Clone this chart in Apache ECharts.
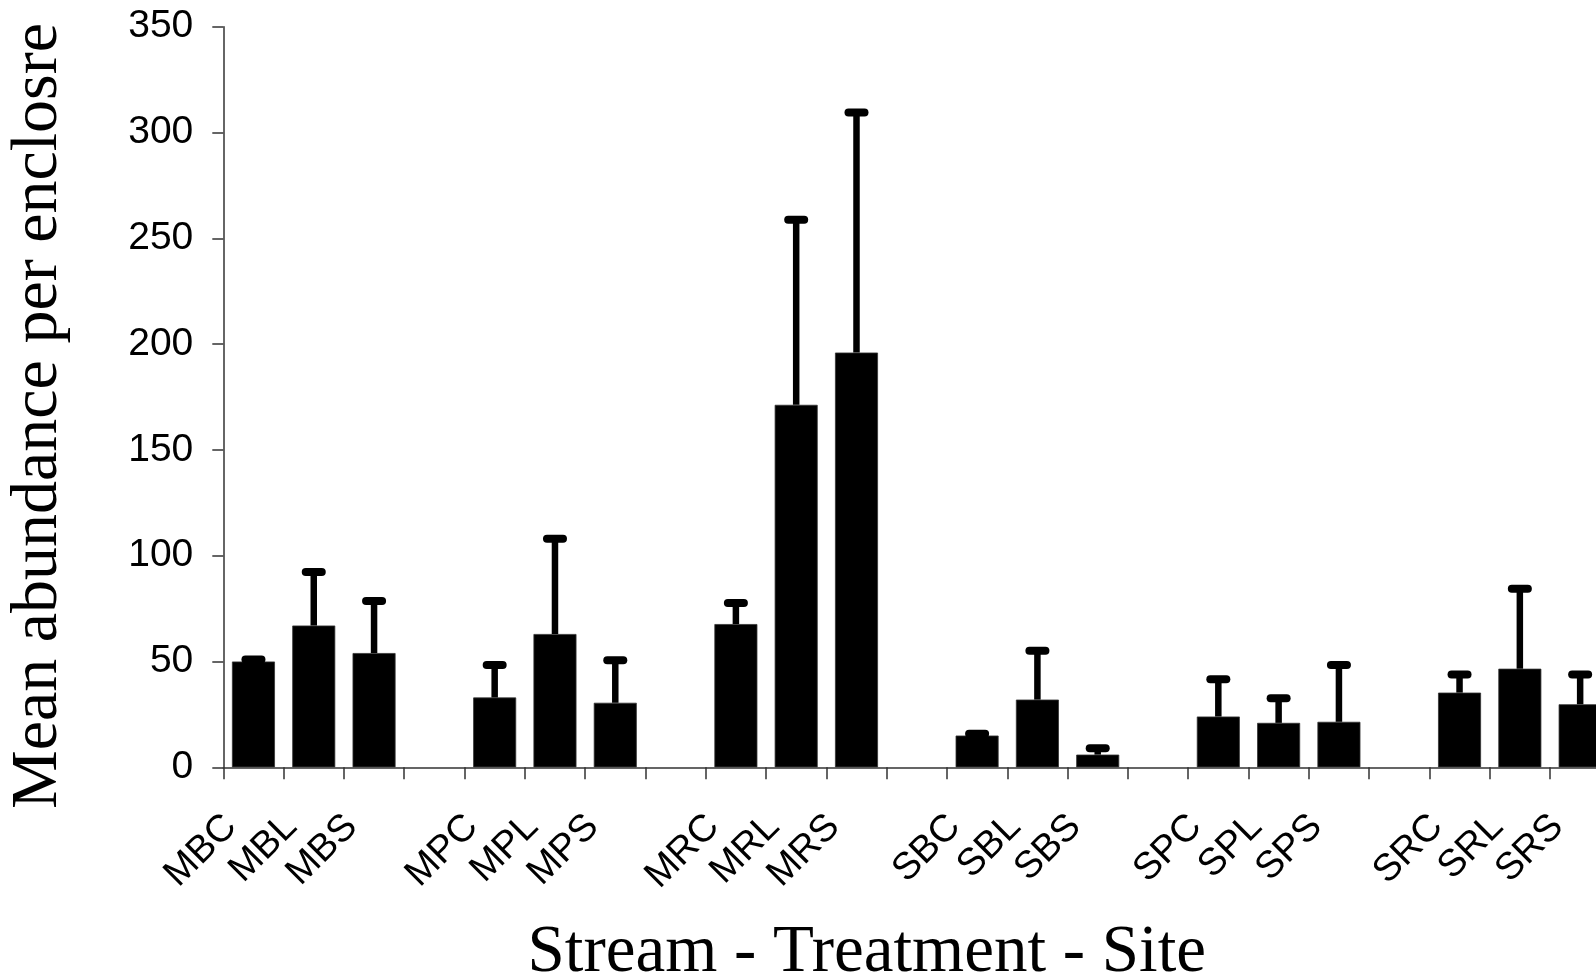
<!DOCTYPE html>
<html>
<head>
<meta charset="utf-8">
<script src="https://cdn.jsdelivr.net/npm/echarts@6/dist/echarts.min.js"></script>
<style>
  html, body { margin: 0; padding: 0; background: #fff; overflow: hidden; }
  #chart { width: 1620px; height: 980px; }
</style>
</head>
<body>
<div id="chart"></div>
<script>
// Categories (blank entries are the gaps between stream groups)
const categories = ['MBC','MBL','MBS',' ','MPC','MPL','MPS','  ','MRC','MRL','MRS','   ',
                    'SBC','SBL','SBS','    ','SPC','SPL','SPS','     ','SRC','SRL','SRS'];
// Mean abundance per enclosure
const means = [50, 67, 54, null, 33, 63, 30.5, null, 67.7, 171.3, 196, null,
               15, 32, 6, null, 24, 21, 21.5, null, 35.3, 46.6, 29.8];
// Upper end of the error bar (mean + error)
const upper = [51, 92.3, 78.6, null, 48.3, 108, 50.6, null, 77.6, 258.8, 309.4, null,
               15.8, 55.1, 9, null, 41.6, 32.6, 48.3, null, 43.8, 84.4, 43.8];
// Y-axis ticks
const yMin = 0, yMax = 350, yStep = 50;

const errData = [];
categories.forEach((c, i) => {
  if (means[i] != null) errData.push([i, means[i], upper[i]]);
});

const chart = echarts.init(document.getElementById('chart'), null, { renderer: 'canvas' });
chart.setOption({
  animation: false,
  backgroundColor: '#ffffff',
  grid: { left: 223.3, top: 26.7, bottom: 212.7, width: 1387, containLabel: false, outerBoundsMode: 'none' },
  xAxis: {
    type: 'category',
    data: categories,
    boundaryGap: true,
    name: 'Stream - Treatment - Site',
    nameLocation: 'middle',
    nameGap: 153,
    nameTextStyle: { fontFamily: 'Liberation Serif', fontSize: 67, color: '#000', padding: [0, 100, 0, 0] },
    axisLine: { lineStyle: { color: '#333', width: 1.5 } },
    axisTick: { show: true, interval: 0, length: 12, inside: false, lineStyle: { color: '#333', width: 1.5 } },
    axisLabel: {
      interval: 0, rotate: 45, margin: 31,
      fontFamily: 'Liberation Sans', fontSize: 38, color: '#000',
      padding: [0, 32, 0, 0]
    },
    splitLine: { show: false }
  },
  yAxis: {
    type: 'value',
    min: yMin, max: yMax, interval: yStep,
    name: 'Mean abundance per enclosre',
    nameLocation: 'middle',
    nameRotate: 90,
    nameGap: 152,
    nameTextStyle: { fontFamily: 'Liberation Serif', fontSize: 66, color: '#000', padding: [0, 38, 0, 0] },
    axisLine: { show: true, lineStyle: { color: '#333', width: 1.5 } },
    axisTick: { show: true, length: 11, lineStyle: { color: '#333', width: 1.5 } },
    axisLabel: { margin: 30, fontFamily: 'Liberation Sans', fontSize: 39, color: '#000' },
    splitLine: { show: false }
  },
  series: [
    {
      type: 'bar',
      data: means.map(v => (v == null ? '-' : v)),
      barWidth: 43,
      itemStyle: { color: '#000', borderColor: '#333', borderWidth: 0.8 }
    },
    {
      type: 'custom',
      data: errData,
      encode: { x: 0, y: [1, 2] },
      z: 3,
      renderItem: function (params, api) {
        const i = api.value(0);
        const base = api.coord([i, api.value(1)]);
        const top = api.coord([i, api.value(2)]);
        return {
          type: 'group',
          children: [
            { type: 'line', shape: { x1: base[0], y1: base[1], x2: top[0], y2: top[1] },
              style: { stroke: '#000', lineWidth: 6.5 } },
            { type: 'line', shape: { x1: top[0] - 8, y1: top[1], x2: top[0] + 8, y2: top[1] },
              style: { stroke: '#000', lineWidth: 8, lineCap: 'round' } }
          ]
        };
      }
    }
  ]
});
</script>
</body>
</html>
